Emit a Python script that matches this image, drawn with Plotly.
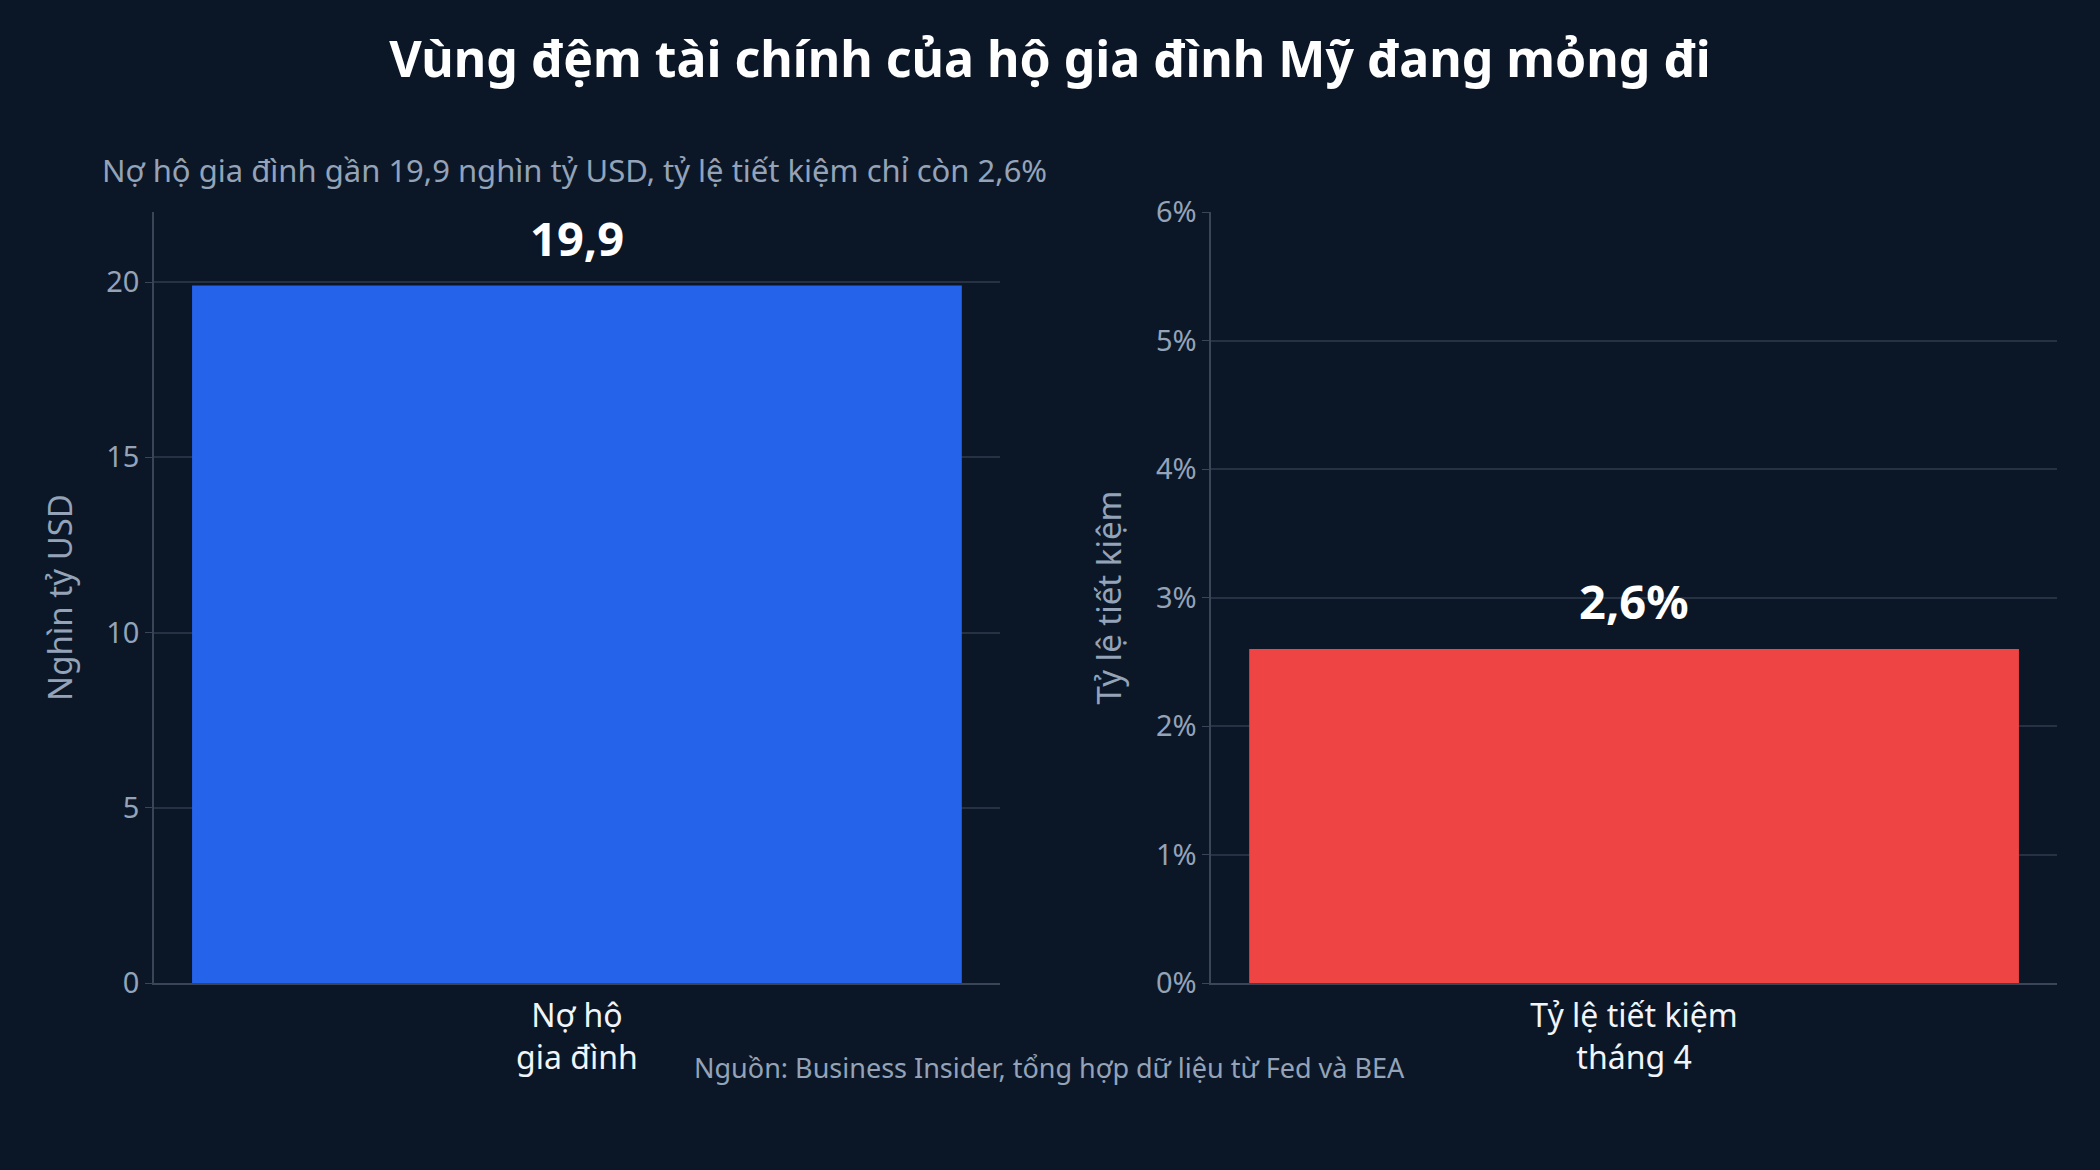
import plotly.graph_objects as go
from plotly.subplots import make_subplots

# data
debt_labels = ["Nợ hộ<br>gia đình"]
debt_values = [19.9]
debt_text = ["19,9"]

saving_labels = ["Tỷ lệ tiết kiệm<br>tháng 4"]
saving_values = [2.6]
saving_text = ["2,6%"]

bg = "#0b1727"
grid = "#263243"
axis_line = "#3a4658"
muted = "#94a3b8"

fig = make_subplots(rows=1, cols=2, horizontal_spacing=0.111)

fig.add_trace(go.Bar(x=debt_labels, y=debt_values,
                     marker_color="#2563eb", marker_line_width=0,
                     showlegend=False), row=1, col=1)

fig.add_trace(go.Bar(x=saving_labels, y=saving_values,
                     marker_color="#ef4444", marker_line_width=0,
                     showlegend=False), row=1, col=2)

# value labels above bars
value_labels = []
for xref, yref, cats, vals, texts in [("x", "y", debt_labels, debt_values, debt_text),
                                      ("x2", "y2", saving_labels, saving_values, saving_text)]:
    for c, v, t in zip(cats, vals, texts):
        value_labels.append(dict(x=c, y=v, xref=xref, yref=yref, text="<b>%s</b>" % t,
                                 showarrow=False, yanchor="bottom", yshift=14,
                                 font=dict(size=47, color="#ffffff")))

fig.update_xaxes(showgrid=False, showline=True, linecolor=axis_line, linewidth=2,
                 tickfont=dict(size=32, color="#f1f5f9"), ticks="", ticklabelstandoff=4)
fig.update_yaxes(showgrid=True, gridcolor=grid, gridwidth=1.5, zeroline=False,
                 showline=True, linecolor=axis_line, linewidth=1.5,
                 ticks="outside", ticklen=7, tickcolor=axis_line,
                 tickfont=dict(size=29, color=muted),
                 title_font=dict(size=33, color=muted), title_standoff=24)

fig.update_yaxes(range=[0, 22], dtick=5, title_text="Nghìn tỷ USD", row=1, col=1)
fig.update_yaxes(range=[0, 6], dtick=1, ticksuffix="%", title_text="Tỷ lệ tiết kiệm", row=1, col=2)

fig.update_layout(
    width=2100, height=1170,
    paper_bgcolor=bg, plot_bgcolor=bg,
    font=dict(family="Noto Sans", color=muted),
    bargap=0.09,
    margin=dict(l=154, r=43, t=212, b=187),
    title=dict(text="<b>Vùng đệm tài chính của hộ gia đình Mỹ đang mỏng đi</b>",
               x=0.5, xanchor="center", y=0.949, yanchor="middle",
               font=dict(size=50, color="#ffffff", family="Noto Sans")),
    annotations=value_labels + [
        dict(text="Nợ hộ gia đình gần 19,9 nghìn tỷ USD, tỷ lệ tiết kiệm chỉ còn 2,6%",
             xref="paper", yref="paper", x=-0.0284, y=1.0545,
             xanchor="left", yanchor="middle", showarrow=False,
             font=dict(size=31, color=muted)),
        dict(text="Nguồn: Business Insider, tổng hợp dữ liệu từ Fed và BEA",
             xref="paper", yref="paper", x=0.4708, y=-0.109,
             xanchor="center", yanchor="middle", showarrow=False,
             font=dict(size=27, color=muted)),
    ],
)

fig.write_html("out.html", config={"displayModeBar": False},
               post_script="document.body.style.margin='0';document.body.style.background='%s';" % bg)
